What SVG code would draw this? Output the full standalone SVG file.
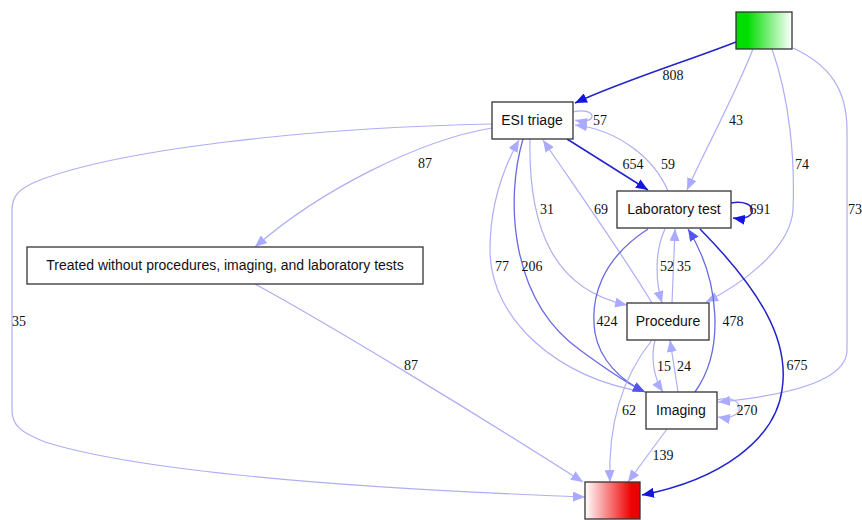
<svg xmlns="http://www.w3.org/2000/svg" width="862" height="520" viewBox="0 0 862 520">
<defs>
<linearGradient id="gStart" x1="0" y1="0" x2="1" y2="0"><stop offset="0" stop-color="#00dd00"/><stop offset="0.2" stop-color="#00dd00"/><stop offset="1" stop-color="#ffffff"/></linearGradient>
<linearGradient id="gEnd" x1="0" y1="0" x2="1" y2="0"><stop offset="0" stop-color="#ffffff"/><stop offset="0.85" stop-color="#ee0000"/><stop offset="1" stop-color="#ee0000"/></linearGradient>
<marker id="aL" markerUnits="userSpaceOnUse" markerWidth="12" markerHeight="10" viewBox="0 0 12 10" refX="12" refY="5" orient="auto"><path d="M0,0 L12,5 L0,10 z" fill="#aaaaff"/></marker>
<marker id="aM" markerUnits="userSpaceOnUse" markerWidth="12" markerHeight="10" viewBox="0 0 12 10" refX="12" refY="5" orient="auto"><path d="M0,0 L12,5 L0,10 z" fill="#5555ee"/></marker>
<marker id="aD" markerUnits="userSpaceOnUse" markerWidth="12" markerHeight="10" viewBox="0 0 12 10" refX="12" refY="5" orient="auto"><path d="M0,0 L12,5 L0,10 z" fill="#1515e0"/></marker>
</defs>
<style>
.n rect{stroke:#333;stroke-width:1.3;fill:#fff}
.n text{font-family:"Liberation Sans",Arial,sans-serif;font-size:14px;fill:#111;text-anchor:middle}
#edges path{fill:none}
.l{stroke:#aeaef5;stroke-width:1.2;marker-end:url(#aL)}
.m{stroke:#6a6ae0;stroke-width:1.3;marker-end:url(#aM)}
.d{stroke:#2323cc;stroke-width:1.5;marker-end:url(#aD)}
.lab text{font-family:"Liberation Serif","Times New Roman",serif;font-size:14px;fill:#111;text-anchor:middle}
</style>
<rect width="862" height="520" fill="#fff"/>
<g id="edges">
<path class="d" d="M736,42 C690,60 620,82 575,103"/>
<path class="l" d="M753,49 C735,95 705,150 687,190"/>
<path class="l" d="M772,49 C790,100 795,160 793,210 C790,250 740,285 706,302"/>
<path class="l" d="M793,48 C830,65 847,90 847,130 L847,350 C847,385 770,397 718,402"/>
<path class="l" d="M573,112 C598,106 598,126 575,120"/>
<path class="d" d="M567,139 L648,190"/>
<path class="l" d="M668,191 C655,160 620,130 575,125"/>
<path class="l" d="M492,128 C420,140 320,190 255,247"/>
<path class="l" d="M492,124 C300,128 120,150 40,180 C20,188 12,195 12,210 L12,410 C12,425 20,432 45,442 C150,475 400,490 585,497"/>
<path class="l" d="M255,284 C330,325 470,410 583,482"/>
<path class="l" d="M530,139 C528,230 555,290 627,305"/>
<path class="l" d="M652,303 C620,250 570,180 543,140"/>
<path class="l" d="M646,392 C560,380 490,320 490,250 C490,200 505,165 519,140"/>
<path class="m" d="M523,139 C505,200 510,300 580,350 C610,372 630,385 645,392"/>
<path class="m" d="M648,229 C600,260 590,300 595,333 C600,360 620,380 645,392"/>
<path class="d" d="M731,203 C758,198 760,222 733,218"/>
<path class="l" d="M665,229 C655,250 655,280 662,303"/>
<path class="l" d="M672,303 L675,229"/>
<path class="m" d="M695,392 C725,350 720,280 688,229"/>
<path class="d" d="M700,229 C760,290 790,340 782,390 C775,440 720,480 642,495"/>
<path class="l" d="M655,340 C650,360 655,380 663,392"/>
<path class="l" d="M678,392 L670,340"/>
<path class="l" d="M652,340 C620,380 608,430 610,482"/>
<path class="l" d="M667,429 L628,482"/>
<path class="l" d="M717,400 C745,392 748,422 718,417"/>
</g>
<g class="lab">
<text x="673" y="80">808</text>
<text x="736" y="125">43</text>
<text x="802" y="169">74</text>
<text x="855" y="214">73</text>
<text x="600" y="125">57</text>
<text x="633" y="169">654</text>
<text x="668" y="169">59</text>
<text x="425" y="168">87</text>
<text x="19" y="326">35</text>
<text x="411" y="370">87</text>
<text x="547" y="214">31</text>
<text x="601" y="214">69</text>
<text x="760" y="214">691</text>
<text x="502" y="271">77</text>
<text x="532" y="271">206</text>
<text x="667" y="271">52</text>
<text x="684" y="271">35</text>
<text x="607" y="326">424</text>
<text x="733" y="326">478</text>
<text x="664" y="371">15</text>
<text x="684" y="371">24</text>
<text x="797" y="370">675</text>
<text x="629" y="415">62</text>
<text x="747" y="415">270</text>
<text x="663" y="460">139</text>
</g>
<g id="start" class="n"><rect x="736" y="12" width="56" height="37" style="fill:url(#gStart)"/></g>
<g id="esi" class="n"><rect x="492" y="102" width="81" height="37"/><text x="532" y="125">ESI triage</text></g>
<g id="treated" class="n"><rect x="27" y="247" width="396" height="37"/><text x="225" y="270">Treated without procedures, imaging, and laboratory tests</text></g>
<g id="lab" class="n"><rect x="617" y="191" width="114" height="37"/><text x="674" y="214">Laboratory test</text></g>
<g id="procedure" class="n"><rect x="627" y="303" width="82" height="37"/><text x="668" y="326">Procedure</text></g>
<g id="imaging" class="n"><rect x="646" y="392" width="71" height="37"/><text x="681" y="415">Imaging</text></g>
<g id="end" class="n"><rect x="585" y="482" width="55" height="37" style="fill:url(#gEnd)"/></g>
</svg>
